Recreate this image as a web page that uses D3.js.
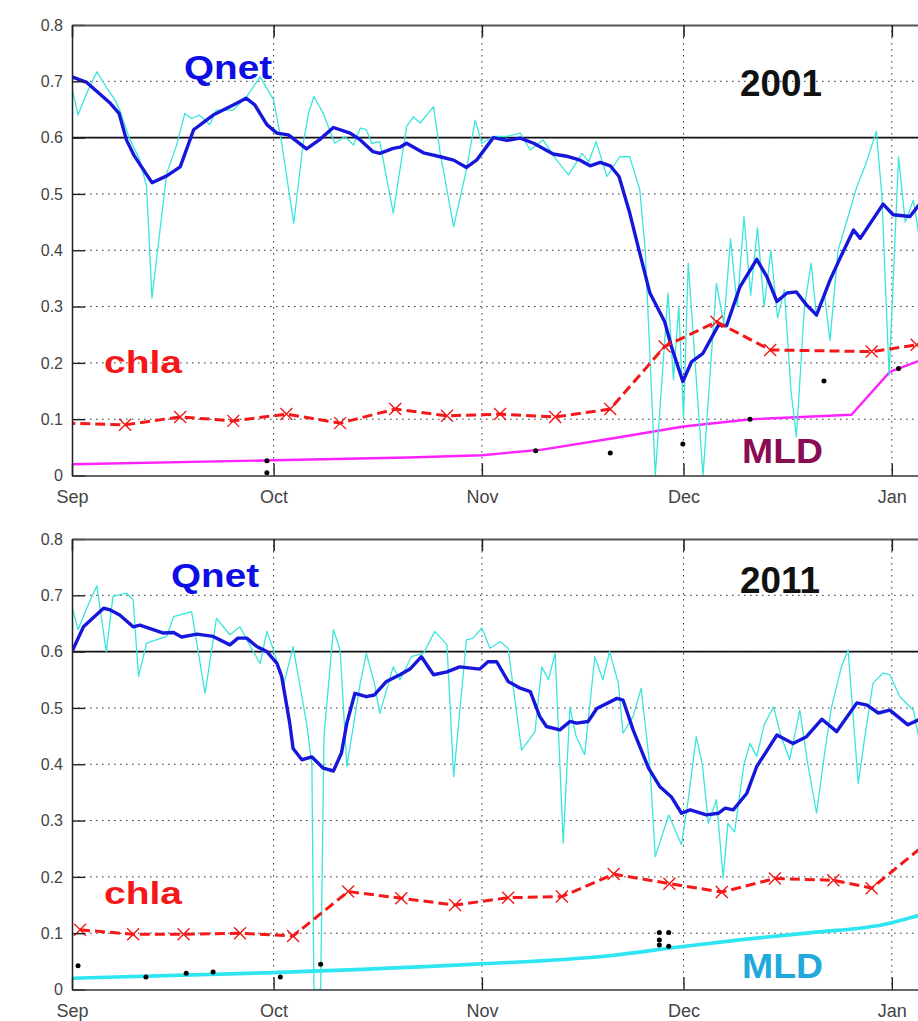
<!DOCTYPE html>
<html>
<head>
<meta charset="utf-8">
<script src="https://cdn.jsdelivr.net/npm/d3@7"></script>
<style>
  html, body { margin: 0; padding: 0; background: #fff; }
  svg { display: block; }
  text { font-family: "Liberation Sans", Arial, Helvetica, sans-serif; }
</style>
</head>
<body>
<svg id="chart" width="918" height="1021"></svg>
<script>
// ---- Axis labels -------------------------------------------------------
const monthLabels = ["Sep", "Oct", "Nov", "Dec", "Jan"];
const yTickValues = [0, 0.1, 0.2, 0.3, 0.4, 0.5, 0.6, 0.7, 0.8];
const yTickLabels = ["0", "0.1", "0.2", "0.3", "0.4", "0.5", "0.6", "0.7", "0.8"];
const qnetReference = 0.6;

// ---- 2001 season: [days since 1 Sep, value] --------------------------
const qnetDaily2001 = [
  [0,0.688],[0.9,0.640],[2.2,0.679],[3.7,0.717],[5.2,0.688],[6.4,0.667],[7.1,0.649],[8.5,0.600],
  [10.1,0.560],[11.1,0.513],[11.9,0.315],[14.1,0.537],[15.5,0.584],[16.8,0.643],[17.8,0.634],
  [19,0.640],[20.5,0.623],[21.5,0.649],[24,0.649],[26,0.673],[28,0.708],[30,0.667],[31.2,0.590],
  [33,0.448],[34.4,0.590],[35.2,0.643],[36,0.673],[37.4,0.643],[39.1,0.590],[40.6,0.602],
  [41.9,0.587],[42.9,0.617],[43.8,0.614],[44.6,0.590],[45.8,0.593],[47.8,0.466],[49.8,0.620],
  [50.8,0.637],[51.8,0.626],[53.8,0.655],[54.8,0.572],[56.8,0.442],[58.7,0.543],[60,0.631],
  [61,0.590],[62.7,0.602],[64.7,0.602],[66.7,0.608],[68.2,0.578],[70.1,0.596],[72.1,0.560],
  [73.9,0.534],[75.9,0.572],[76.9,0.557],[78,0.593],[79.6,0.531],[81.5,0.566],[83,0.566],
  [84.5,0.507],[85.3,0.400],[86.8,0.0],[88.7,0.324],[89.5,0.170],[90.3,0.300],[91,0.100],
  [91.7,0.377],[93.9,0.0],[95.9,0.341],[97,0.270],[98,0.420],[99,0.300],[100,0.460],[101,0.320],
  [102,0.440],[103,0.300],[104,0.400],[105,0.280],[106,0.330],[107,0.150],[107.8,0.069],
  [109,0.300],[110,0.377],[110.8,0.282],[112,0.320],[112.8,0.240],[114,0.400],[115.5,0.460],
  [116.8,0.513],[118,0.549],[119.7,0.611],[120.5,0.500],[121.6,0.178],[123,0.566],[124,0.450],
  [125.2,0.489],[126,0.430]
];
const qnetSmooth2001 = [
  [0,0.708],[2.2,0.698],[5.7,0.661],[7,0.643],[8.1,0.596],[9.2,0.569],[11.9,0.520],[14.1,0.532],
  [16.1,0.548],[18.1,0.614],[21,0.640],[24,0.658],[25.9,0.670],[27.2,0.658],[29,0.623],
  [30.5,0.608],[32.2,0.605],[34.9,0.580],[36.8,0.596],[38.9,0.618],[41.4,0.608],[42.9,0.596],
  [44.8,0.575],[45.8,0.572],[47.8,0.581],[48.8,0.583],[49.8,0.590],[52.3,0.573],[54.8,0.566],
  [56.8,0.560],[58.7,0.547],[60.2,0.560],[61.7,0.584],[62.7,0.600],[64.7,0.595],[66.7,0.599],
  [68.7,0.590],[71.6,0.571],[73.6,0.567],[75.6,0.560],[77.1,0.550],[78.6,0.556],[80.1,0.550],
  [81.4,0.531],[83,0.466],[84,0.418],[86,0.324],[88.2,0.273],[89.2,0.229],[90.9,0.167],
  [92.2,0.202],[93.9,0.217],[96.2,0.267],[97.4,0.266],[99.4,0.335],[101.9,0.384],[103.4,0.353],
  [104.9,0.309],[106.4,0.324],[107.8,0.326],[109.3,0.303],[110.8,0.285],[112.8,0.347],
  [114.3,0.386],[116.3,0.436],[117.3,0.421],[120.7,0.482],[122.2,0.463],[124.7,0.460],[126,0.480]
];
const chla2001 = [
  [-1,0.093],[7.9,0.090],[16.1,0.104],[24,0.097],[31.9,0.109],[39.9,0.093],[48.1,0.118],
  [55.8,0.106],[63.7,0.109],[71.9,0.104],[80.1,0.118],[88.2,0.229],[95.9,0.273],[103.9,0.223],
  [119,0.220],[125.7,0.232]
];
const mld2001 = [
  [0,0.020],[30,0.027],[50,0.032],[61,0.036],[70,0.046],[81,0.067],[91,0.087],[101,0.100],
  [116,0.108],[121.7,0.184],[127,0.208]
];
const mldObs2001 = [
  [29,0.026],[29,0.005],[69,0.044],[80.1,0.040],[90.9,0.056],[100.9,0.100],[111.9,0.168],[123,0.190]
];

// ---- 2011 season ------------------------------------------------------
const qnetDaily2011 = [
  [0,0.680],[0.9,0.639],[2.3,0.680],[3.7,0.717],[5.1,0.600],[6.1,0.698],[8.1,0.704],[9.1,0.692],
  [9.9,0.556],[11.1,0.615],[14.1,0.627],[15.1,0.662],[17.8,0.671],[19.8,0.526],[21.5,0.659],
  [23.5,0.630],[25,0.644],[26.5,0.610],[28,0.579],[29,0.636],[30,0.603],[31.5,0.541],[32.9,0.609],
  [34.9,0.473],[35.7,0.400],[36,0.0],[37,0.0],[37.5,0.450],[38.9,0.639],[39.9,0.603],[40.9,0.396],
  [42.9,0.544],[43.8,0.597],[45,0.544],[45.8,0.490],[47.8,0.573],[48.8,0.550],[50.5,0.591],
  [52.3,0.597],[54,0.636],[55.8,0.612],[56.8,0.378],[58.7,0.621],[59.7,0.624],[61,0.642],
  [62.2,0.606],[63.7,0.618],[64.9,0.606],[66.9,0.425],[68.9,0.458],[69.9,0.573],[70.9,0.550],
  [71.9,0.597],[73.1,0.260],[74.1,0.502],[75,0.450],[76.3,0.417],[77.8,0.591],[79,0.550],
  [80,0.600],[81.3,0.544],[82,0.455],[83.5,0.485],[84.7,0.535],[86,0.396],[86.8,0.236],
  [88.8,0.310],[90.7,0.257],[91.7,0.337],[92.9,0.449],[93.8,0.400],[94.7,0.295],[95.9,0.337],
  [96.9,0.198],[97.6,0.295],[98.6,0.280],[100,0.400],[100.9,0.437],[101.9,0.414],[103,0.470],
  [104.4,0.502],[105.5,0.450],[106.8,0.408],[108.3,0.496],[109.5,0.400],[110.8,0.313],[112,0.420],
  [113,0.500],[114.5,0.573],[115.5,0.603],[117,0.366],[118,0.450],[119.2,0.544],[120.7,0.562],
  [121.7,0.559],[123.2,0.520],[125.2,0.496],[126,0.449]
];
const qnetSmooth2011 = [
  [0,0.600],[1.7,0.644],[4.7,0.677],[5.7,0.674],[7.1,0.665],[9.1,0.644],[10.1,0.647],[13.6,0.633],
  [15.1,0.634],[16.3,0.626],[18.6,0.631],[21,0.627],[23.5,0.612],[24.7,0.624],[26,0.624],
  [27.5,0.609],[29,0.600],[30.5,0.579],[31.2,0.556],[32.4,0.473],[32.9,0.428],[34.2,0.408],
  [35.7,0.413],[37.4,0.393],[38.9,0.388],[40.1,0.420],[40.9,0.473],[42.1,0.526],[43.8,0.520],
  [45,0.523],[46.8,0.547],[48.8,0.559],[50.3,0.569],[52,0.591],[53.8,0.559],[55.8,0.564],
  [57.7,0.573],[60.7,0.569],[61.9,0.582],[63.2,0.582],[64.9,0.547],[66.7,0.535],[68.2,0.529],
  [69.6,0.485],[70.6,0.467],[72.6,0.461],[74.1,0.476],[75.1,0.473],[76.8,0.476],[78.1,0.499],
  [81.1,0.517],[82,0.514],[83.5,0.461],[85.8,0.393],[87.5,0.360],[89.2,0.342],[90.7,0.313],
  [92,0.319],[94.4,0.310],[96.2,0.313],[97.2,0.322],[98.4,0.319],[100.4,0.348],[101.9,0.396],
  [104.9,0.452],[107.3,0.437],[109.3,0.449],[111.6,0.480],[113.8,0.458],[116.8,0.509],
  [118.3,0.505],[120,0.491],[121.7,0.496],[124.4,0.470],[126,0.479]
];
const chla2011 = [
  [1.2,0.106],[9.1,0.098],[16.6,0.098],[25,0.100],[32.9,0.095],[41.1,0.174],[49,0.162],[57,0.150],
  [64.9,0.163],[72.9,0.165],[80.6,0.205],[88.9,0.188],[96.7,0.173],[104.6,0.197],[113.3,0.194],
  [119,0.180],[127,0.258]
];
const mld2011 = [
  [0,0.020],[30,0.030],[60,0.045],[80,0.060],[90,0.075],[100,0.089],[110,0.101],[121,0.116],[127,0.135]
];
const mldObs2011 = [
  [0.9,0.042],[11,0.022],[17,0.029],[21,0.031],[31,0.022],[37,0.045],
  [87.4,0.101],[88.8,0.101],[87.4,0.088],[87.4,0.079],[88.8,0.077]
];

// ---- Layout ------------------------------------------------------------
const plotLeft = 72, plotRight = 918.7;
const panels = [
  { year: 2001, top: 25, bottom: 475.5,
    daily: qnetDaily2001, smooth: qnetSmooth2001, chla: chla2001, mld: mld2001, obs: mldObs2001,
    mldColor: "#ff22ff", mldWidth: 2.4, mldLabelColor: "#8a0c52", mldCurve: d3.curveLinear,
    labels: { qnet: [184, 79, 88], year: [740, 96, 82], chla: [104, 373, 78], mld: [742, 463, 81] } },
  { year: 2011, top: 539, bottom: 989.5,
    daily: qnetDaily2011, smooth: qnetSmooth2011, chla: chla2011, mld: mld2011, obs: mldObs2011,
    mldColor: "#2ee6f2", mldWidth: 3.6, mldLabelColor: "#22a9dc", mldCurve: d3.curveMonotoneX,
    labels: { qnet: [171, 587, 88], year: [740, 593, 80], chla: [104, 904, 78], mld: [742, 978, 81] } }
];

const svg = d3.select("#chart");
const defs = svg.append("defs");
const dayMs = 864e5;

panels.forEach((p, idx) => {
  const start = Date.UTC(p.year, 8, 1);
  const toDate = d => new Date(start + d * dayMs);
  const x = d3.scaleUtc()
    .domain([new Date(start), new Date(Date.UTC(p.year + 1, 0, 5))])
    .range([plotLeft, plotRight]);
  const y = d3.scaleLinear().domain([0, 0.8]).range([p.bottom, p.top]);
  const monthDates = monthLabels.map((m, i) => new Date(Date.UTC(p.year, 8 + i, 1)));

  const clipId = "plot-clip-" + idx;
  defs.append("clipPath").attr("id", clipId).append("rect")
    .attr("x", plotLeft).attr("y", p.top)
    .attr("width", plotRight - plotLeft).attr("height", p.bottom - p.top);

  const g = svg.append("g");

  // dotted grid
  const grid = g.append("g").attr("stroke", "#3a3a3a").attr("stroke-width", 1)
    .attr("stroke-dasharray", "1.6,4.4");
  grid.selectAll("line.h").data(yTickValues.filter(v => v > 0 && v < 0.8)).join("line")
    .attr("class", "h")
    .attr("x1", plotLeft).attr("x2", plotRight)
    .attr("y1", d => y(d)).attr("y2", d => y(d));
  grid.selectAll("line.v").data(monthDates.slice(1)).join("line")
    .attr("class", "v")
    .attr("x1", d => x(d)).attr("x2", d => x(d))
    .attr("y1", p.top).attr("y2", p.bottom);

  // reference level
  g.append("line")
    .attr("x1", plotLeft).attr("x2", plotRight)
    .attr("y1", y(qnetReference)).attr("y2", y(qnetReference))
    .attr("stroke", "#111").attr("stroke-width", 1.6);

  const line = d3.line().x(d => x(toDate(d[0]))).y(d => y(d[1]));
  const mldLine = d3.line().curve(p.mldCurve)
    .x(d => x(toDate(d[0]))).y(d => y(d[1]));
  const plot = g.append("g").attr("clip-path", `url(#${clipId})`);

  // mixed layer depth
  plot.append("path").datum(p.mld).attr("d", mldLine)
    .attr("fill", "none").attr("stroke", p.mldColor).attr("stroke-width", p.mldWidth)
    .attr("stroke-linejoin", "round");

  // daily Qnet
  plot.append("path").datum(p.daily).attr("d", line)
    .attr("fill", "none").attr("stroke", "#3ae6dc").attr("stroke-width", 1.3)
    .attr("stroke-linejoin", "round");

  // smoothed Qnet
  plot.append("path").datum(p.smooth).attr("d", line)
    .attr("fill", "none").attr("stroke", "#1717dc").attr("stroke-width", 3.4)
    .attr("stroke-linejoin", "round").attr("stroke-linecap", "round");

  // chlorophyll
  plot.append("path").datum(p.chla).attr("d", line)
    .attr("fill", "none").attr("stroke", "#f51818").attr("stroke-width", 3)
    .attr("stroke-dasharray", "10,5");
  const s = 6;
  plot.selectAll("path.mark").data(p.chla).join("path")
    .attr("class", "mark")
    .attr("d", d => {
      const cx = x(toDate(d[0])), cy = y(d[1]);
      return `M${cx - s},${cy - s}L${cx + s},${cy + s}M${cx - s},${cy + s}L${cx + s},${cy - s}`;
    })
    .attr("stroke", "#f51818").attr("stroke-width", 1.4).attr("fill", "none");

  // MLD observations
  plot.selectAll("circle.obs").data(p.obs).join("circle")
    .attr("class", "obs")
    .attr("cx", d => x(toDate(d[0]))).attr("cy", d => y(d[1])).attr("r", 2.5)
    .attr("fill", "#000");

  // axes
  const yAxis = d3.axisLeft(y).tickValues(yTickValues)
    .tickFormat((d, i) => yTickLabels[i]).tickSizeInner(-13).tickSizeOuter(0).tickPadding(9);
  const ag = g.append("g").attr("transform", `translate(${plotLeft},0)`).call(yAxis);
  ag.select(".domain").attr("stroke", "#222").attr("stroke-width", 1.5);
  ag.selectAll(".tick line").attr("stroke", "#222").attr("stroke-width", 1.4);
  ag.selectAll(".tick text").attr("font-size", 16).attr("fill", "#444")
    .attr("font-family", "'Liberation Sans', Arial, sans-serif");

  const xAxis = d3.axisBottom(x).tickValues(monthDates)
    .tickFormat((d, i) => monthLabels[i]).tickSizeInner(-12).tickSizeOuter(0).tickPadding(15);
  const bg = g.append("g").attr("transform", `translate(0,${p.bottom})`).call(xAxis);
  bg.select(".domain").attr("stroke", "#333").attr("stroke-width", 1.5);
  bg.selectAll(".tick line").attr("stroke", "#222").attr("stroke-width", 1.4);
  bg.selectAll(".tick text").attr("font-size", 18).attr("fill", "#444")
    .attr("font-family", "'Liberation Sans', Arial, sans-serif");

  const topAxis = d3.axisTop(x).tickValues(monthDates).tickFormat("")
    .tickSizeInner(-12).tickSizeOuter(0);
  const tg = g.append("g").attr("transform", `translate(0,${p.top})`).call(topAxis);
  tg.select(".domain").attr("stroke", "#555").attr("stroke-width", 1.8);
  tg.selectAll(".tick line").attr("stroke", "#222").attr("stroke-width", 1.6);

  // series labels
  const label = (txt, pos, size, color) => g.append("text")
    .attr("x", pos[0]).attr("y", pos[1]).attr("font-size", size)
    .attr("font-weight", "bold").attr("fill", color)
    .attr("textLength", pos[2]).attr("lengthAdjust", "spacingAndGlyphs")
    .text(txt);
  label("Qnet", p.labels.qnet, 34, "#0d0de6");
  label(String(p.year), p.labels.year, 36, "#111");
  label("chla", p.labels.chla, 32, "#f51818");
  label("MLD", p.labels.mld, 35, p.mldLabelColor);
});
</script>
</body>
</html>
